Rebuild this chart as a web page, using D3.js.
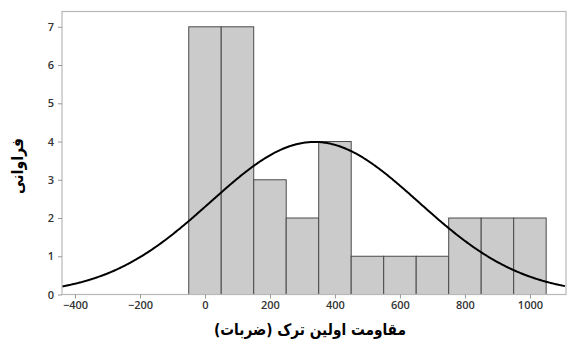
<!DOCTYPE html>
<html>
<head>
<meta charset="utf-8">
<script src="https://cdn.jsdelivr.net/npm/d3@7/dist/d3.min.js"></script>
<style>
  html, body { margin: 0; padding: 0; background: #fff; }
  svg { display: block; }
</style>
</head>
<body>
<script>
// Histogram bins (centres) and their counts
const binCenters = [0, 100, 200, 300, 400, 500, 600, 700, 800, 900, 1000];
const binCounts  = [7, 7, 3, 2, 4, 1, 1, 1, 2, 2, 2];
const binWidth = 100;

// Fitted normal distribution
const fitMean = 337;
const fitSd = 320;

// Axis ticks
const xTicks = [-400, -200, 0, 200, 400, 600, 800, 1000];
const yTicks = [0, 1, 2, 3, 4, 5, 6, 7];

const xTitle = "مقاومت اولین ترک (ضربات)";
const yTitle = "فراوانی";

const W = 567, H = 342;
const plot = { left: 62, right: 566, top: 11.5, bottom: 294.5 };

const svg = d3.select("body").append("svg")
  .attr("width", W).attr("height", H);

const x = d3.scaleLinear().domain([-440, 1111]).range([plot.left, plot.right]);
const y = d3.scaleLinear().domain([0, 7.4]).range([plot.bottom, plot.top]);

svg.append("defs").append("clipPath").attr("id", "plotClip")
  .append("rect")
  .attr("x", plot.left).attr("y", plot.top)
  .attr("width", plot.right - plot.left).attr("height", plot.bottom - plot.top);

// Bars
const bins = binCenters.map((c, i) => ({ x0: c - binWidth / 2, x1: c + binWidth / 2, n: binCounts[i] }));
svg.append("g").selectAll("rect").data(bins).join("rect")
  .attr("x", d => x(d.x0))
  .attr("y", d => y(d.n))
  .attr("width", d => x(d.x1) - x(d.x0))
  .attr("height", d => y(0) - y(d.n))
  .attr("fill", "#cbcbcb")
  .attr("stroke", "#4a4a4a")
  .attr("stroke-width", 1);

// Normal curve scaled to counts
const total = d3.sum(binCounts);
const pdf = v => Math.exp(-0.5 * ((v - fitMean) / fitSd) ** 2) / (fitSd * Math.sqrt(2 * Math.PI));
const curvePts = d3.range(x.domain()[0], x.domain()[1] + 1, 4).map(v => [v, total * binWidth * pdf(v)]);
svg.append("path")
  .datum(curvePts)
  .attr("clip-path", "url(#plotClip)")
  .attr("fill", "none")
  .attr("stroke", "#000")
  .attr("stroke-width", 2)
  .attr("d", d3.line().x(d => x(d[0])).y(d => y(d[1])).curve(d3.curveMonotoneX));

// Frame
svg.append("rect")
  .attr("x", plot.left).attr("y", plot.top)
  .attr("width", plot.right - plot.left).attr("height", plot.bottom - plot.top)
  .attr("fill", "none").attr("stroke", "#b8b8b8").attr("stroke-width", 1.2);

// Axes
const xAxis = svg.append("g")
  .attr("transform", `translate(0,${plot.bottom})`)
  .call(d3.axisBottom(x).tickValues(xTicks).tickSize(4).tickPadding(3).tickFormat(d3.format("d")));
const yAxis = svg.append("g")
  .attr("transform", `translate(${plot.left},0)`)
  .call(d3.axisLeft(y).tickValues(yTicks).tickSize(4).tickPadding(4).tickFormat(d3.format("d")));

[xAxis, yAxis].forEach(g => {
  g.select(".domain").remove();
  g.selectAll(".tick line").attr("stroke", "#999");
  g.selectAll(".tick text")
    .attr("fill", "#333")
    .style("font-family", "'Open Sans', sans-serif")
    .style("font-size", "11px")
    .style("font-weight", "600");
});

// Titles
svg.append("text")
  .attr("x", 310).attr("y", 335)
  .attr("text-anchor", "middle")
  .attr("direction", "rtl")
  .attr("textLength", 192)
  .attr("lengthAdjust", "spacingAndGlyphs")
  .style("font-family", "'DejaVu Sans', sans-serif")
  .style("font-weight", "bold")
  .style("font-size", "16px")
  .text(xTitle);

svg.append("text")
  .attr("transform", "translate(23,166) rotate(-90)")
  .attr("text-anchor", "middle")
  .attr("direction", "rtl")
  .attr("textLength", 56)
  .attr("lengthAdjust", "spacingAndGlyphs")
  .style("font-family", "'DejaVu Sans', sans-serif")
  .style("font-weight", "bold")
  .style("font-size", "16px")
  .text(yTitle);
</script>
</body>
</html>
